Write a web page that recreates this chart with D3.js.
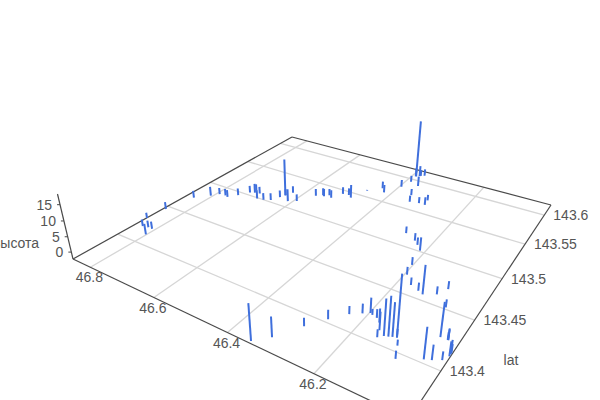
<!DOCTYPE html>
<html>
<head>
<meta charset="utf-8">
<script src="https://d3js.org/d3.v7.min.js"></script>
<style>
body { margin: 0; background: #fff; overflow: hidden; }
text { font-family: "Liberation Sans", Arial, sans-serif; font-size: 14px; fill: #555; }
</style>
</head>
<body>
<svg id="chart" width="600" height="400"></svg>
<script>
const lonValues = [46.859,46.838,46.802,46.822,46.809,46.853,46.836,46.805,46.791,46.773,46.763,46.745,46.728,46.716,46.719,46.690,46.702,46.671,46.654,46.643,46.637,46.636,46.612,46.628,46.592,46.566,46.551,46.546,46.537,46.525,
    46.510,46.493,46.481,46.464,46.435,46.420,46.395,46.386,46.358,46.389,46.390,46.381,46.379,46.370,46.350,46.337,46.313,46.300,46.296,46.274,46.241,46.228,46.212,46.202,46.195,46.136,46.171,46.149,46.111,46.098,
    46.120,46.051,46.078,46.035,46.035,46.036,46.052,46.039,46.023,46.016,46.016,46.016,46.198,46.192,46.180,46.169,46.158,46.152,46.143,46.135,46.128,46.120,46.109,46.096,46.287,46.259,46.232,46.211,46.347,46.320]
const latValues = [143.428,143.418,143.411,143.419,143.419,143.446,143.472,143.482,143.488,143.489,143.488,143.495,143.504,143.506,143.509,143.499,143.507,143.500,143.503,143.511,143.516,143.516,143.509,143.523,143.513,143.529,143.533,143.532,143.536,143.533,
    143.544,143.545,143.542,143.560,143.571,143.565,143.582,143.595,143.591,143.607,143.607,143.609,143.610,143.612,143.573,143.562,143.564,143.572,143.564,143.517,143.511,143.507,143.501,143.482,143.470,143.456,143.461,143.458,143.461,143.470,
    143.411,143.425,143.452,143.425,143.425,143.425,143.403,143.405,143.408,143.415,143.413,143.416,143.422,143.421,143.420,143.417,143.411,143.405,143.408,143.409,143.410,143.411,143.405,143.395,143.390,143.403,143.414,143.419,143.363,143.372]
const heightValues = [-0.4,-0.0,1.3,0.0,0.2,0.2,0.2,1.0,-0.0,0.1,0.2,0.2,0.2,1.0,0.2,0.7,0.2,0.2,0.2,0.2,10.8,-0.0,2.1,0.2,0.2,0.2,0.3,0.4,-0.0,0.5,
    0.2,0.2,2.4,-2.0,0.2,0.5,0.3,0.0,1.3,18.4,0.8,1.6,-0.1,0.2,-0.0,0.0,-0.1,-0.2,0.5,0.0,0.3,0.2,2.2,0.3,0.2,6.9,0.1,0.3,0.2,0.3,
    15.9,8.0,0.2,0.9,1.2,-0.0,7.1,2.2,0.3,1.9,2.1,0.4,2.4,-0.5,0.4,2.0,3.3,0.1,8.7,9.6,7.9,0.3,-0.5,0.1,0.3,0.6,0.2,0.7,8.7,3.9]

const lonTicks = [46.8, 46.6, 46.4, 46.2]
const latTicks = [143.4, 143.45, 143.5, 143.55, 143.6]
const heightTicks = [0, 5, 10, 15]

const lonScale = d3.scaleLinear().domain([46.014, 46.86]).range([0, 1])
const latScale = d3.scaleLinear().domain([143.3612, 143.6193]).range([0, 1])
const heightScale = d3.scaleLinear().domain([-2.3, 18.2]).range([0, 1])

// floor corners of the box on screen, then a plain square-to-quad perspective
const corners = [[409, 419], [73, 259], [292, 137], [551, 205]]
const vanish = [319, 1290]
const [[x0, y0], [x1, y1], [x2, y2], [x3, y3]] = corners
const dx1 = x1 - x2, dx2 = x3 - x2, sx = x0 - x1 + x2 - x3
const dy1 = y1 - y2, dy2 = y3 - y2, sy = y0 - y1 + y2 - y3
const det = dx1 * dy2 - dx2 * dy1
const g = (sx * dy2 - dx2 * sy) / det
const h = (dx1 * sy - sx * dy1) / det
const a = x1 - x0 + g * x1, b = x3 - x0 + h * x3
const d = y1 - y0 + g * y1, e = y3 - y0 + h * y3
const k = -0.0593 * (g + 1)

const project = (u, v, w) => {
    const q = g * u + h * v + 1 + w * k
    return [(a * u + b * v + x0 + w * k * vanish[0]) / q,
            (d * u + e * v + y0 + w * k * vanish[1]) / q]
}

const svg = d3.select("#chart")

const drawLine = (from, to, color, width) => {
    const p = project(...from), q = project(...to)
    svg.append("line")
        .attr("x1", p[0]).attr("y1", p[1])
        .attr("x2", q[0]).attr("y2", q[1])
        .attr("stroke", color)
        .attr("stroke-width", width)
}

lonTicks.forEach(t => drawLine([lonScale(t), 0, 0], [lonScale(t), 1, 0], "#d6d6d6", 1.3))
latTicks.forEach(t => drawLine([0, latScale(t), 0], [1, latScale(t), 0], "#d6d6d6", 1.3))

drawLine([0, 0, 0], [1, 0, 0], "#4a4a4a", 1.2)
drawLine([1, 0, 0], [1, 1, 0], "#4a4a4a", 1.2)
drawLine([1, 1, 0], [0, 1, 0], "#4a4a4a", 1.2)
drawLine([0, 1, 0], [0, 0, 0], "#4a4a4a", 1.2)
drawLine([1, 0, 0], [1, 0, 1], "#4a4a4a", 1.2)

svg.selectAll(".ztick")
    .data(heightTicks)
    .enter()
    .append("line")
    .attr("class", "ztick")
    .attr("x1", t => project(1, 0, heightScale(t))[0] - 3)
    .attr("x2", t => project(1, 0, heightScale(t))[0])
    .attr("y1", t => project(1, 0, heightScale(t))[1])
    .attr("y2", t => project(1, 0, heightScale(t))[1])
    .attr("stroke", "#4a4a4a")

svg.selectAll(".xlabel")
    .data(lonTicks)
    .enter()
    .append("text")
    .attr("x", t => project(lonScale(t), 0, 0)[0] - 1)
    .attr("y", t => project(lonScale(t), 0, 0)[1] + 15)
    .attr("text-anchor", "middle")
    .text(t => t)

svg.selectAll(".ylabel")
    .data(latTicks)
    .enter()
    .append("text")
    .attr("x", t => project(0, latScale(t), 0)[0] + 9)
    .attr("y", t => project(0, latScale(t), 0)[1] + 5)
    .text(t => t)

svg.selectAll(".zlabel")
    .data(heightTicks)
    .enter()
    .append("text")
    .attr("x", t => project(1, 0, heightScale(t))[0] - 8)
    .attr("y", t => project(1, 0, heightScale(t))[1] + 5)
    .attr("text-anchor", "end")
    .text(t => t)

svg.append("text").attr("x", 16).attr("y", 248).attr("text-anchor", "middle").text("высота")
svg.append("text").attr("x", 511).attr("y", 365).attr("text-anchor", "middle").text("lat")

svg.selectAll(".stick")
    .data(lonValues.map((lon, i) => ({ lon: lon, lat: latValues[i], height: heightValues[i] })))
    .enter()
    .append("line")
    .attr("class", "stick")
    .attr("x1", s => project(lonScale(s.lon), latScale(s.lat), 0)[0])
    .attr("y1", s => project(lonScale(s.lon), latScale(s.lat), 0)[1])
    .attr("x2", s => project(lonScale(s.lon), latScale(s.lat), heightScale(s.height))[0])
    .attr("y2", s => project(lonScale(s.lon), latScale(s.lat), heightScale(s.height))[1])
    .attr("stroke", "#3f6fdc")
    .attr("stroke-width", 2)
</script>
</body>
</html>
